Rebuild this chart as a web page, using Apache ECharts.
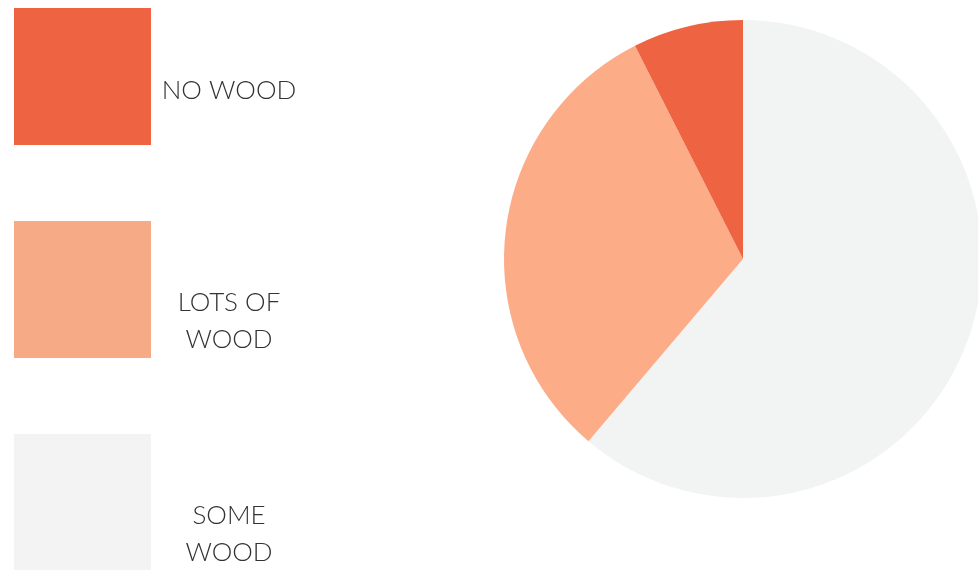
<!DOCTYPE html>
<html>
<head>
<meta charset="utf-8">
<script src="https://cdn.jsdelivr.net/npm/echarts@6/dist/echarts.min.js"></script>
<style>
  html, body { margin: 0; padding: 0; background: #ffffff; }
  #chart { width: 978px; height: 570px; }
</style>
</head>
<body>
<div id="chart"></div>
<script>
// Wood-presence survey: counts per answer
const categories = ['SOME WOOD', 'LOTS OF WOOD', 'NO WOOD'];
const counts = [41, 21, 5];
const sliceColors = ['#F2F3F3', '#FDAC88', '#EE6341'];

// Legend order and wrapped labels
const legendOrder = ['NO WOOD', 'LOTS OF WOOD', 'SOME WOOD'];
const legendLines = [['NO WOOD'], ['LOTS OF', 'WOOD'], ['SOME', 'WOOD']];
const legendSwatch = ['#EE6341', '#F7AA86', '#F3F3F3'];

const chart = echarts.init(document.getElementById('chart'), null, { renderer: 'canvas' });

const labelFont = "'Lato', 'Open Sans', sans-serif";

const option = {
  animation: false,
  backgroundColor: '#ffffff',
  legend: {
    orient: 'vertical',
    left: 14,
    top: 8,
    height: 700,
    padding: 0,
    itemWidth: 137,
    itemHeight: 137,
    itemGap: 76,
    selectedMode: false,
    icon: 'rect',
    data: legendOrder.map((name, i) => ({
      name: name,
      itemStyle: { color: legendSwatch[i] },
      textStyle: { padding: [legendLines[i].length > 1 ? 64 : 29, 0, 0, 0] }
    })),
    formatter: function (name) {
      const i = legendOrder.indexOf(name);
      return legendLines[i].map(l => '{t|' + l + '}').join('\n');
    },
    textStyle: {
      color: '#333333',
      fontFamily: labelFont,
      fontSize: 26,
      fontWeight: 300,
      rich: {
        t: {
          width: 146,
          align: 'center',
          lineHeight: 37,
          fontFamily: labelFont,
          fontSize: 26,
          fontWeight: 300,
          color: '#333333'
        }
      }
    }
  },
  series: [{
    type: 'pie',
    center: [743, 259],
    radius: 239,
    startAngle: 90,
    clockwise: true,
    label: { show: false },
    labelLine: { show: false },
    emphasis: { disabled: true },
    itemStyle: { borderWidth: 0 },
    data: categories.map((name, i) => ({
      name: name,
      value: counts[i],
      itemStyle: { color: sliceColors[i] }
    }))
  }]
};

chart.setOption(option);
</script>
</body>
</html>
